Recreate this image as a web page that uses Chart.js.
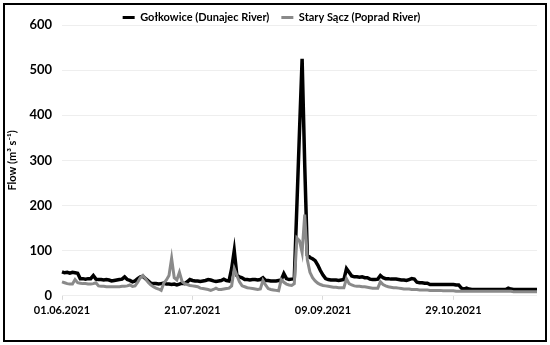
<!DOCTYPE html>
<html lang="en-US">

<head>
  <meta charset="utf-8">
  <title>Flow - Gołkowice / Stary Sącz</title>
  <script src="https://cdn.jsdelivr.net/npm/chart.js@4.4.1/dist/chart.umd.min.js"></script>
  <style>
    html, body { margin: 0; padding: 0; background: #fff; }
    #holder { position: relative; width: 550px; height: 345px; }
  </style>
</head>

<body>
  <div id="holder">
    <canvas id="chart" width="550" height="345"></canvas>
  </div>
  <script>
    // daily flows, 01.06.2021 - 30.11.2021 (m3/s)
    const startDate = new Date(2021, 5, 1);
    const dayCount = 183;

    const golkowice = [
      53, 51, 52, 50, 52, 51, 50, 38, 38, 37, 38, 38, 45, 37, 36, 36, 35, 36, 35, 33,
      34, 35, 36, 37, 42, 36, 34, 31, 33, 38, 42, 43, 38, 33, 28, 27, 27, 26, 27, 28,
      26, 26, 25, 26, 24, 26, 28, 27, 31, 36, 34, 33, 33, 32, 33, 34, 36, 35, 33, 32,
      33, 34, 37, 34, 33, 60, 100, 45, 42, 40, 36, 36, 35, 36, 36, 35, 36, 40, 34, 34,
      33, 33, 33, 34, 35, 49, 38, 36, 37, 38, 200, 365, 525, 290, 90, 85, 82, 78, 68, 56,
      46, 38, 36, 35, 35, 35, 34, 35, 36, 60, 52, 44, 42, 42, 41, 42, 40, 40, 37, 36,
      36, 37, 45, 40, 38, 38, 37, 37, 37, 36, 35, 35, 34, 36, 38, 37, 30, 29, 29, 28,
      28, 25, 25, 25, 25, 25, 25, 25, 25, 25, 25, 24, 24, 17, 15, 17, 15, 14, 14, 14,
      14, 14, 14, 14, 14, 14, 14, 14, 14, 14, 14, 17, 15, 14, 14, 14, 14, 14, 14, 14,
      14, 14, 14
    ];

    const starySacz = [
      31, 29, 27, 26, 26, 36, 29, 28, 27, 27, 26, 26, 27, 29, 22, 21, 21, 20, 20, 20,
      20, 20, 20, 21, 21, 22, 24, 21, 22, 30, 40, 45, 38, 30, 24, 20, 17, 15, 12, 28,
      35, 45, 83, 40, 35, 52, 32, 27, 25, 23, 22, 21, 20, 17, 16, 15, 14, 12, 14, 17,
      14, 14, 15, 16, 17, 22, 60, 45, 31, 22, 20, 18, 17, 16, 15, 14, 15, 34, 24, 16,
      14, 13, 12, 11, 36, 30, 26, 24, 23, 27, 128, 122, 96, 180, 80, 52, 40, 33, 28, 25,
      23, 22, 21, 20, 19, 19, 18, 18, 18, 38, 27, 24, 22, 21, 21, 20, 20, 19, 18, 17,
      17, 17, 31, 25, 22, 20, 19, 18, 18, 17, 16, 15, 15, 15, 14, 14, 14, 13, 13, 13,
      13, 12, 12, 12, 12, 12, 11, 11, 11, 11, 11, 10, 10, 10, 10, 10, 10, 10, 10, 10,
      10, 10, 10, 10, 10, 10, 10, 10, 10, 10, 10, 10, 10, 9, 9, 9, 9, 9, 9, 9,
      9, 9, 9
    ];

    const yTicks = [0, 100, 200, 300, 400, 500, 600];
    const labelEvery = 50;

    function pad(n) {
      return n < 10 ? '0' + n : '' + n;
    }

    const dates = [];
    for (let i = 0; i < dayCount; i += 1) {
      const d = new Date(startDate.getFullYear(), startDate.getMonth(), startDate.getDate() + i);
      dates.push(pad(d.getDate()) + '.' + pad(d.getMonth() + 1) + '.' + d.getFullYear());
    }

    const font = 'Lato, "Liberation Sans", sans-serif';
    const legendHeight = 25;

    // white page + black frame round the figure, and a shorter legend box
    const framePlugin = {
      id: 'frame',
      beforeLayout(chart) {
        const lg = chart.legend;
        if (lg && !lg._shortFit) {
          const fit = lg.fit.bind(lg);
          lg.fit = function () {
            fit();
            this.height = legendHeight;
          };
          lg._shortFit = true;
        }
      },
      beforeDraw(chart) {
        const c = chart.ctx;
        c.save();
        c.fillStyle = '#fff';
        c.fillRect(0, 0, chart.width, chart.height);
        c.restore();
      },
      afterDraw(chart) {
        const c = chart.ctx;
        c.save();
        c.strokeStyle = '#000';
        c.lineWidth = 2;
        c.strokeRect(4, 4, chart.width - 8, chart.height - 8);
        c.restore();
      }
    };

    const config = {
      type: 'line',
      data: {
        labels: dates,
        datasets: [
          {
            label: 'Gołkowice (Dunajec River)',
            data: golkowice,
            borderColor: '#000000',
            backgroundColor: '#000000',
            borderWidth: 3.5,
            order: 1,
          },
          {
            label: 'Stary Sącz (Poprad River)',
            data: starySacz,
            borderColor: '#8a8a8a',
            backgroundColor: '#8a8a8a',
            borderWidth: 3,
            order: 0,
          }
        ]
      },
      options: {
        responsive: false,
        animation: false,
        layout: {
          padding: { left: 6, right: 13, top: 0, bottom: 24 }
        },
        elements: {
          point: { radius: 0 },
          line: { tension: 0, borderJoinStyle: 'miter', borderCapStyle: 'butt' }
        },
        plugins: {
          tooltip: { enabled: false },
          legend: {
            position: 'top',
            align: 'center',
            labels: {
              color: '#000',
              font: { family: font, size: 11, weight: 'bold' },
              boxWidth: 12,
              boxHeight: 3,
              padding: 12,
              sort: (a, b) => a.datasetIndex - b.datasetIndex,
              generateLabels(chart) {
                const items = Chart.defaults.plugins.legend.labels.generateLabels(chart);
                items.forEach(it => { it.lineWidth = 0; });
                return items;
              }
            }
          }
        },
        scales: {
          x: {
            type: 'category',
            offset: false,
            border: { display: false },
            grid: {
              drawOnChartArea: false,
              tickLength: 4,
              color: ctx => (ctx.index % labelEvery === 0 ? '#d9d9d9' : 'rgba(0,0,0,0)')
            },
            ticks: {
              autoSkip: false,
              maxRotation: 0,
              minRotation: 0,
              padding: 4,
              color: '#000',
              font: { family: font, size: 11, weight: 'bold' },
              callback: (val, idx) => (idx % labelEvery === 0 ? dates[idx] : '')
            }
          },
          y: {
            min: 0,
            max: 600,
            afterBuildTicks: scale => {
              scale.ticks = yTicks.map(v => ({ value: v }));
            },
            afterFit: scale => { scale.width = 56; },
            border: { display: false },
            grid: {
              color: '#eeeeee',
              lineWidth: 1,
              drawTicks: false
            },
            ticks: {
              padding: 10,
              color: '#000',
              font: { family: font, size: 13, weight: 'bold' }
            },
            title: {
              display: true,
              text: 'Flow (m³ s⁻¹)',
              color: '#000',
              font: { family: font, size: 11, weight: 'bold' },
              padding: { top: 0, bottom: 4 }
            }
          }
        }
      },
      plugins: [framePlugin]
    };

    window.chart = new Chart(document.getElementById('chart'), config);
  </script>
</body>

</html>
